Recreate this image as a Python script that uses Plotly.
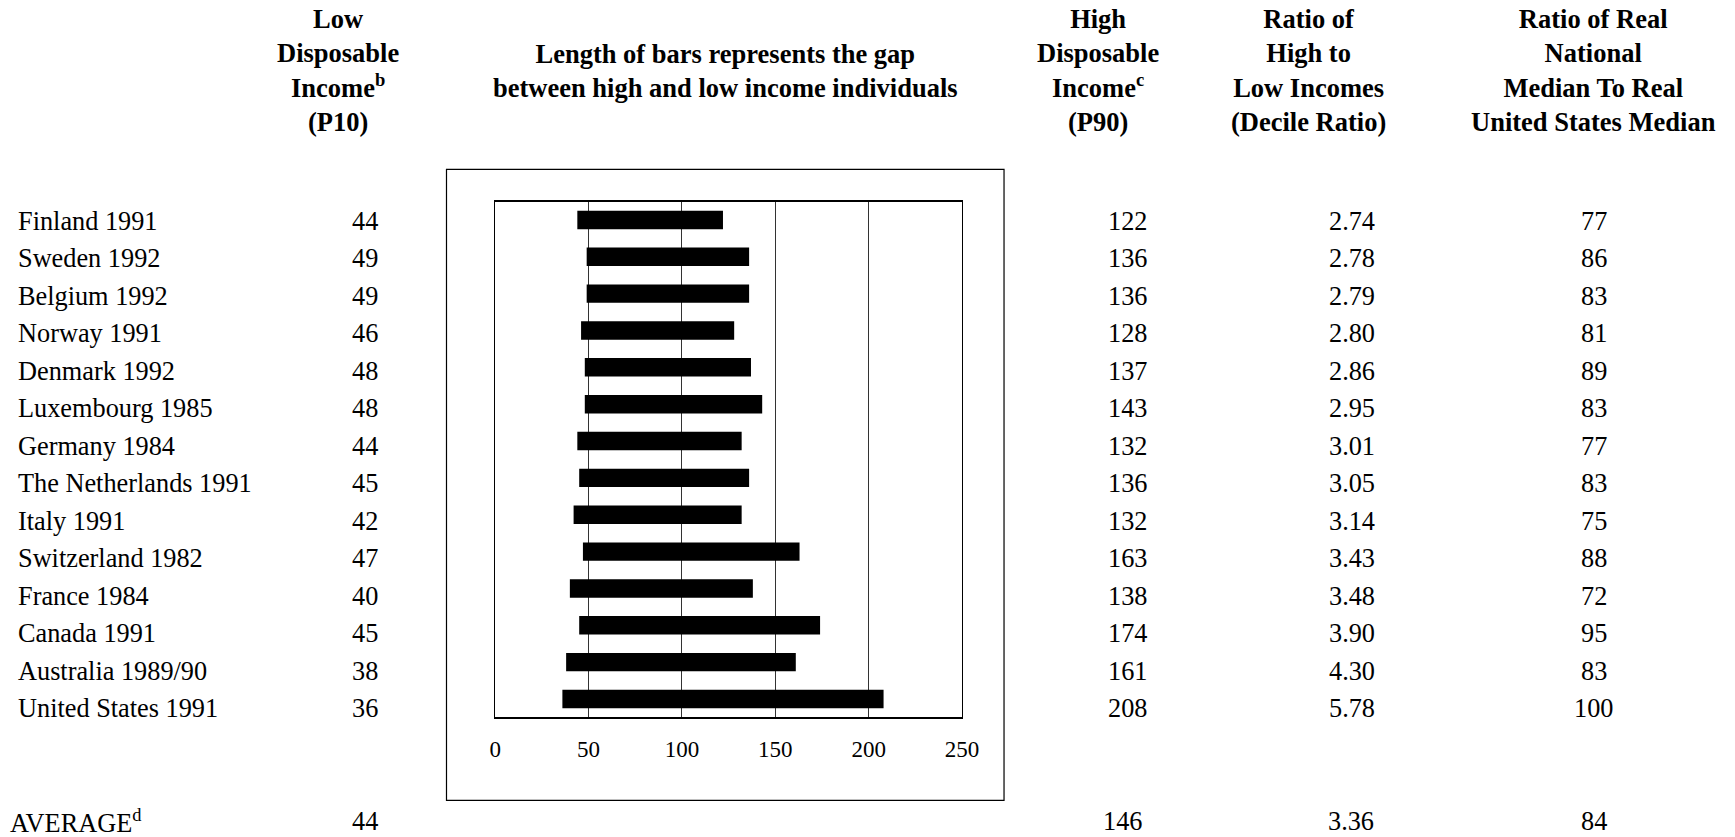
import plotly.graph_objects as go

countries = ["Finland 1991", "Sweden 1992", "Belgium 1992", "Norway 1991", "Denmark 1992",
             "Luxembourg 1985", "Germany 1984", "The Netherlands 1991", "Italy 1991",
             "Switzerland 1982", "France 1984", "Canada 1991", "Australia 1989/90",
             "United States 1991"]
p10 = [44, 49, 49, 46, 48, 48, 44, 45, 42, 47, 40, 45, 38, 36]
p90 = [122, 136, 136, 128, 137, 143, 132, 136, 132, 163, 138, 174, 161, 208]
decile_ratio = ["2.74", "2.78", "2.79", "2.80", "2.86", "2.95", "3.01", "3.05", "3.14",
                "3.43", "3.48", "3.90", "4.30", "5.78"]
median_ratio = [77, 86, 83, 81, 89, 83, 77, 83, 75, 88, 72, 95, 83, 100]
avg_label = "AVERAGE<sup>d</sup>"
avg_p10, avg_p90, avg_ratio, avg_median = 44, 146, "3.36", 84
x_ticks = [0, 50, 100, 150, 200, 250]

headers = [
    "Low<br>Disposable<br>Income<sup>b</sup><br>(P10)",
    "Length of bars represents the gap<br>between high and low income individuals",
    "High<br>Disposable<br>Income<sup>c</sup><br>(P90)",
    "Ratio of<br>High to<br>Low Incomes<br>(Decile Ratio)",
    "Ratio of Real<br>National<br>Median To Real<br>United States Median",
]

W_D, H_D = 1568.0, 756.0  # reference measuring frame
def fx(x):
    return ((x - 4.8) / 0.987) / W_D
def fy(y):
    return 1 - y / H_D

FONT = "Liberation Serif"
FS = 26.3
HFS = 26.5

fig = go.Figure()
fig.add_trace(go.Bar(
    y=countries,
    x=[h - l for h, l in zip(p90, p10)],
    base=p10,
    orientation="h",
    width=0.5,
    marker=dict(color="black", line=dict(width=0)),
    hoverinfo="skip",
))

ann = []
header_x = [305, 655, 992, 1182, 1440]
for hx, txt in zip(header_x, headers):
    ann.append(dict(x=fx(hx), y=fy(64), xref="paper", yref="paper", text="<b>" + txt + "</b>",
                    showarrow=False, xanchor="center", yanchor="middle",
                    font=dict(family=FONT, size=HFS, color="black")))

row0, step = 200.0, 33.85
col_x = [329, 1019, 1222, 1440]
for i, c in enumerate(countries):
    yy = fy(row0 + i * step)
    ann.append(dict(x=fx(14), y=yy, xref="paper", yref="paper", text=c, showarrow=False,
                    xanchor="left", yanchor="middle",
                    font=dict(family=FONT, size=FS, color="black")))
    vals = [str(p10[i]), str(p90[i]), decile_ratio[i], str(median_ratio[i])]
    for cx, v in zip(col_x, vals):
        ann.append(dict(x=fx(cx), y=yy, xref="paper", yref="paper", text=v, showarrow=False,
                        xanchor="center", yanchor="middle",
                        font=dict(family=FONT, size=FS, color="black")))

ya = fy(742)
ann.append(dict(x=fx(7), y=ya, xref="paper", yref="paper", text=avg_label, showarrow=False,
                xanchor="left", yanchor="middle", font=dict(family=FONT, size=FS, color="black")))
for cx, v in zip([329, 1014, 1221, 1440], [str(avg_p10), str(avg_p90), avg_ratio, str(avg_median)]):
    ann.append(dict(x=fx(cx), y=ya, xref="paper", yref="paper", text=v, showarrow=False,
                    xanchor="center", yanchor="middle",
                    font=dict(family=FONT, size=FS, color="black")))

fig.update_layout(
    width=1735, height=837,
    margin=dict(l=0, r=0, t=0, b=0),
    paper_bgcolor="white", plot_bgcolor="white",
    showlegend=False,
    font=dict(family=FONT, color="black"),
    xaxis=dict(domain=[fx(447), fx(869)], range=[0, 250], tickvals=x_ticks,
               showgrid=True, gridcolor="#333333", gridwidth=1,
               showline=True, linecolor="black", linewidth=1.5, mirror=True,
               zeroline=False, ticks="", ticklabelstandoff=10,
               tickfont=dict(family=FONT, size=23, color="black")),
    yaxis=dict(domain=[fy(648), fy(182)], type="category", autorange="reversed",
               showticklabels=False, showgrid=False,
               showline=True, linecolor="black", linewidth=1.2, mirror=True, ticks=""),
    shapes=[dict(type="rect", xref="paper", yref="paper",
                 x0=fx(403), x1=fx(907), y0=fy(723), y1=fy(153),
                 line=dict(color="black", width=1.2), fillcolor="rgba(0,0,0,0)")],
    annotations=ann,
)

fig.write_html("out.html", config={"displayModeBar": False},
               post_script="document.body.style.margin='0';document.body.style.overflow='hidden';")
